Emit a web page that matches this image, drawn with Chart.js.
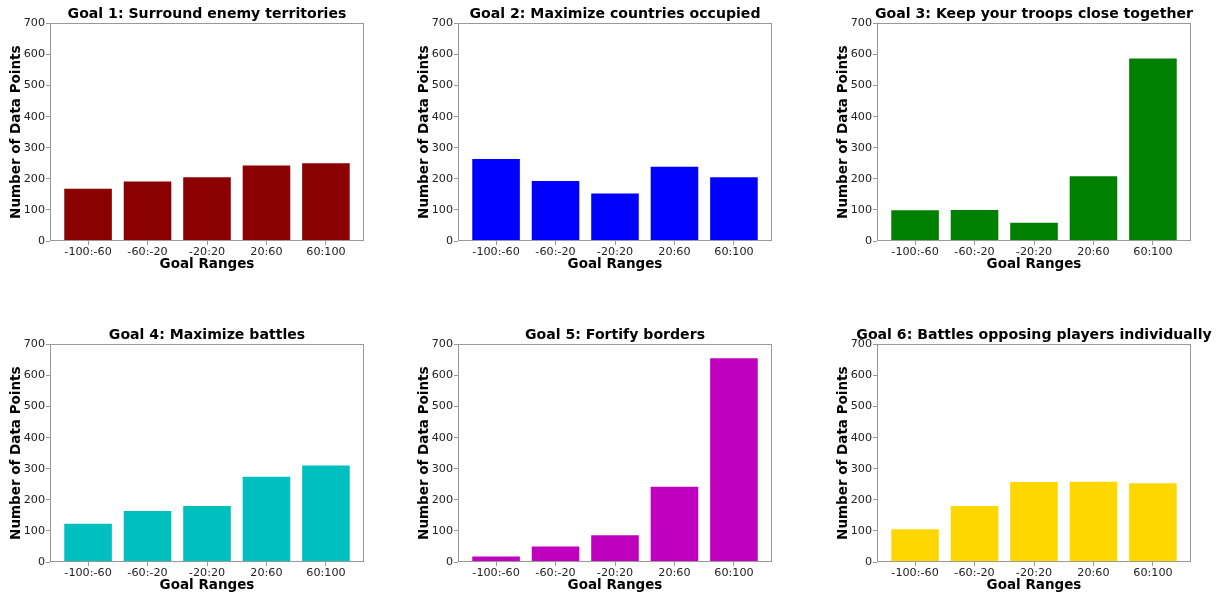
<!DOCTYPE html>
<html>
<head>
<meta charset="utf-8">
<title>Goal ranges</title>
<script src="https://cdn.jsdelivr.net/npm/chart.js@4.4.0/dist/chart.umd.min.js"></script>
<style>
  html, body { margin: 0; padding: 0; background: #fff; }
  body { width: 1218px; height: 597px; position: relative; overflow: hidden; }
  canvas { position: absolute; }
</style>
</head>
<body>
<canvas id="goal1" width="414" height="275" style="left:0px;top:0px"></canvas>
<canvas id="goal2" width="414" height="275" style="left:408px;top:0px"></canvas>
<canvas id="goal3" width="414" height="275" style="left:827px;top:0px"></canvas>
<canvas id="goal4" width="414" height="275" style="left:0px;top:321px"></canvas>
<canvas id="goal5" width="414" height="275" style="left:408px;top:321px"></canvas>
<canvas id="goal6" width="414" height="275" style="left:827px;top:321px"></canvas>
<script>
// data
const goalRanges = ['-100:-60', '-60:-20', '-20:20', '20:60', '60:100'];
const yTicks = [0, 100, 200, 300, 400, 500, 600, 700];

const goal1Values = [168, 191, 205, 243, 250];
const goal2Values = [264, 193, 153, 239, 205];
const goal3Values = [99, 100, 59, 208, 587];
const goal4Values = [123, 164, 180, 274, 310];
const goal5Values = [18, 50, 86, 242, 655];
const goal6Values = [105, 180, 257, 258, 253];

const goalTitles = [
  'Goal 1: Surround enemy territories',
  'Goal 2: Maximize countries occupied',
  'Goal 3: Keep your troops close together',
  'Goal 4: Maximize battles',
  'Goal 5: Fortify borders',
  'Goal 6: Battles opposing players individually'
];
const goalColors = ['#8b0000', '#0000ff', '#008000', '#00bfbf', '#bf00bf', '#ffd700'];

Chart.defaults.font.family = "'DejaVu Sans', sans-serif";
Chart.defaults.color = '#222';

// box round the plot area, like the matplotlib spines
const frame = {
  id: 'frame',
  afterDatasetsDraw(chart) {
    const { ctx, chartArea } = chart;
    const l = Math.round(chartArea.left) + 0.5, t = Math.round(chartArea.top) + 0.5;
    const r = Math.round(chartArea.right) - 0.5, b = Math.round(chartArea.bottom) - 0.5;
    ctx.save();
    ctx.strokeStyle = '#999';
    ctx.lineWidth = 1;
    ctx.strokeRect(l, t, r - l, b - t);
    ctx.restore();
  }
};

function makeChart(id, title, values, color) {
  return new Chart(id, {
    type: 'bar',
    data: {
      datasets: [{
        data: values.map((v, i) => ({ x: i, y: v })),
        backgroundColor: color,
        borderWidth: 0,
        barPercentage: 0.8,
        categoryPercentage: 1
      }]
    },
    options: {
      responsive: false,
      animation: false,
      layout: { padding: 0 },
      plugins: {
        legend: { display: false },
        tooltip: { enabled: false },
        title: {
          display: true,
          text: title,
          color: '#000',
          font: { size: 14.1, weight: 'bold', lineHeight: 1.2 },
          padding: { top: 5.5, bottom: 0.9 }
        }
      },
      scales: {
        x: {
          type: 'linear',
          min: -0.64,
          max: 4.64,
          offset: false,
          afterBuildTicks: s => { s.ticks = goalRanges.map((_, i) => ({ value: i })); },
          afterFit: s => { s.height = 34; },
          ticks: {
            autoSkip: false,
            maxRotation: 0,
            padding: 0,
            font: { size: 11.2 },
            callback: v => goalRanges[v]
          },
          grid: { offset: false, drawOnChartArea: false, color: '#999', tickLength: 4 },
          border: { display: false },
          title: {
            display: true,
            text: 'Goal Ranges',
            color: '#000',
            font: { size: 13.5, weight: 'bold', lineHeight: 1.2 },
            padding: { top: 0, bottom: 2.7 }
          }
        },
        y: {
          min: 0,
          max: 700,
          afterBuildTicks: s => { s.ticks = yTicks.map(v => ({ value: v })); },
          afterFit: s => { s.width = 50; },
          ticks: { padding: 1, font: { size: 11.2 } },
          grid: { drawOnChartArea: false, color: '#999', tickLength: 4 },
          border: { display: false },
          title: {
            display: true,
            text: 'Number of Data Points',
            color: '#000',
            font: { size: 13.5, weight: 'bold', lineHeight: 1.2 },
            padding: { top: 8, bottom: 0 }
          }
        },
        // empty right axis, same width as the left one, so the title sits centred over the plot
        spacer: {
          position: 'right',
          afterFit: s => { s.width = 50; },
          ticks: { display: false },
          grid: { display: false },
          border: { display: false }
        }
      }
    },
    plugins: [frame]
  });
}

makeChart('goal1', goalTitles[0], goal1Values, goalColors[0]);
makeChart('goal2', goalTitles[1], goal2Values, goalColors[1]);
makeChart('goal3', goalTitles[2], goal3Values, goalColors[2]);
makeChart('goal4', goalTitles[3], goal4Values, goalColors[3]);
makeChart('goal5', goalTitles[4], goal5Values, goalColors[4]);
makeChart('goal6', goalTitles[5], goal6Values, goalColors[5]);
</script>
</body>
</html>
